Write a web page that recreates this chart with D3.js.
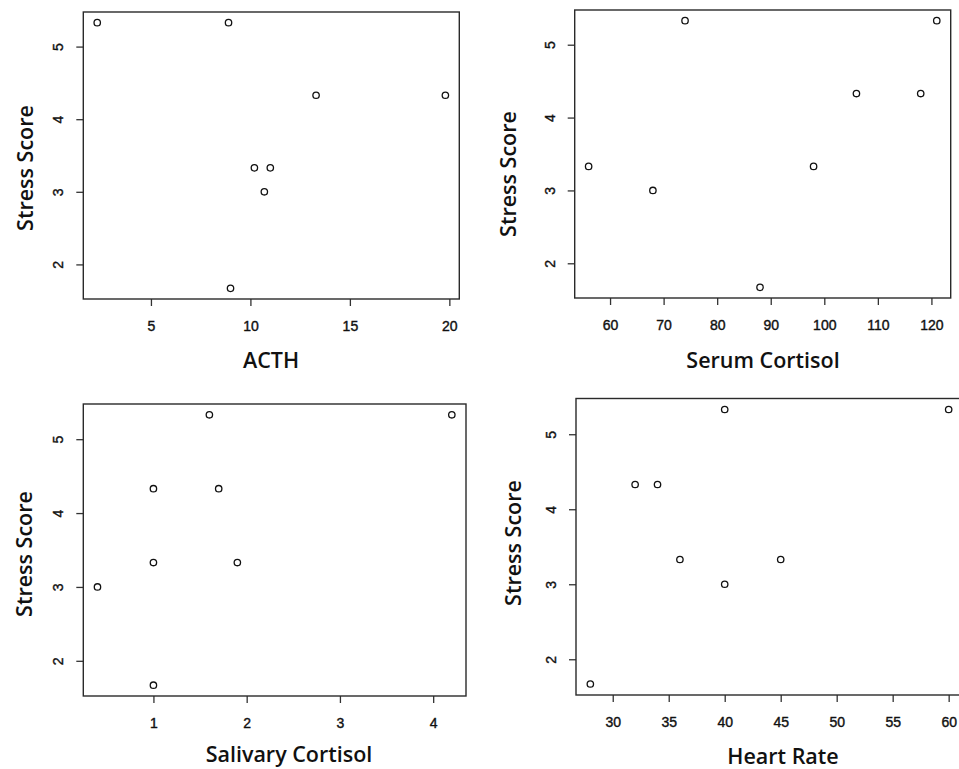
<!DOCTYPE html>
<html>
<head>
    <meta charset="utf-8">
    <style>
        body { margin: 0; background: #ffffff; }
        .tick text { font-family: "Liberation Sans", Arial, sans-serif; font-size: 14px; fill: #111; stroke: #111; stroke-width: 0.4px; }
        .lab { font-family: "Open Sans", sans-serif; font-weight: 600; font-size: 21.5px; fill: #111111; }
    </style>
    <script src="https://d3js.org/d3.v7.min.js"></script>
</head>
<body>
<div id="chart"></div>
<script>

    // values
    var acth = [2.3, 8.9, 13.3, 19.8, 10.2, 11.0, 10.7, 9.0];
    var stressActh = [5.33, 5.33, 4.33, 4.33, 3.33, 3.33, 3, 1.67];

    var serum = [56, 68, 74, 88, 98, 106, 118, 121];
    var stressSerum = [3.33, 3, 5.33, 1.67, 3.33, 4.33, 4.33, 5.33];

    var salivary = [0.4, 1.0, 1.0, 1.0, 1.6, 1.7, 1.9, 4.2];
    var stressSalivary = [3, 4.33, 3.33, 1.67, 5.33, 4.33, 3.33, 5.33];

    var heart = [28, 32, 34, 36, 40, 40, 45, 60];
    var stressHeart = [1.67, 4.33, 4.33, 3.33, 5.33, 3, 3.33, 5.33];

    var yTicks = [2, 3, 4, 5];
    var xTicksActh = [5, 10, 15, 20];
    var xTicksSerum = [60, 70, 80, 90, 100, 110, 120];
    var xTicksSalivary = [1, 2, 3, 4];
    var xTicksHeart = [30, 35, 40, 45, 50, 55, 60];

    var yTitle = "Stress Score";

    var W = 959, H = 769;

    var svg = d3.select("#chart").append("svg")
        .attr("width", W)
        .attr("height", H);

    var fmt = d3.format("d");

    // R-style range: data extent plus 4% on each side
    function padded(vals) {
        var e = d3.extent(vals), p = (e[1] - e[0]) * 0.04;
        return [e[0] - p, e[1] + p];
    }

    function panel(xs, ys, xTicks, xTitle, box) {

        var g = svg.append("g");

        var x = d3.scaleLinear().domain(padded(xs)).range([box.left, box.right]);
        var y = d3.scaleLinear().domain(padded(ys)).range([box.bottom, box.top]);

        var xa = g.append("g")
            .attr("transform", "translate(0," + box.bottom + ")")
            .call(d3.axisBottom(x).tickValues(xTicks).tickFormat(fmt).tickSize(7).tickPadding(15));
        xa.select(".domain").remove();

        var ya = g.append("g")
            .attr("transform", "translate(" + box.left + ",0)")
            .call(d3.axisLeft(y).tickValues(yTicks).tickFormat(fmt).tickSize(7));
        ya.select(".domain").remove();
        ya.selectAll("text")
            .attr("transform", "rotate(-90)")
            .attr("x", 0)
            .attr("y", -25)
            .attr("dy", "0.35em")
            .attr("text-anchor", "middle");

        g.selectAll(".tick line").attr("stroke", "#333").attr("stroke-width", 1.3);

        g.append("rect")
            .attr("x", box.left)
            .attr("y", box.top)
            .attr("width", box.right - box.left)
            .attr("height", box.bottom - box.top)
            .attr("fill", "none")
            .attr("stroke", "#2a2a2a")
            .attr("stroke-width", 1.4);

        g.append("g")
            .selectAll("circle")
            .data(xs)
            .enter()
            .append("circle")
            .attr("cx", d => x(d))
            .attr("cy", (d, i) => y(ys[i]))
            .attr("r", 3.2)
            .attr("fill", "none")
            .attr("stroke", "#111")
            .attr("stroke-width", 1.3);

        g.append("text")
            .attr("class", "lab")
            .attr("x", box.xlabX)
            .attr("y", box.xlabY)
            .attr("text-anchor", "middle")
            .attr("dominant-baseline", "central")
            .text(xTitle);

        g.append("text")
            .attr("class", "lab")
            .attr("transform", "translate(" + box.ylabX + "," + box.ylabY + ") rotate(-90)")
            .attr("text-anchor", "middle")
            .attr("dominant-baseline", "central")
            .text(yTitle);
    }

    panel(acth, stressActh, xTicksActh, "ACTH",
        {left: 83.3, right: 459.3, top: 12, bottom: 299, ylabX: 24, ylabY: 168, xlabX: 271, xlabY: 359});
    panel(serum, stressSerum, xTicksSerum, "Serum Cortisol",
        {left: 574.7, right: 950.7, top: 10, bottom: 298, ylabX: 507, ylabY: 174, xlabX: 763, xlabY: 359});
    panel(salivary, stressSalivary, xTicksSalivary, "Salivary Cortisol",
        {left: 83.3, right: 466, top: 404, bottom: 696, ylabX: 23, ylabY: 554, xlabX: 289, xlabY: 753});
    panel(heart, stressHeart, xTicksHeart, "Heart Rate",
        {left: 576, right: 963, top: 398.5, bottom: 695, ylabX: 512, ylabY: 543, xlabX: 783, xlabY: 755});

</script>
</body>
</html>
